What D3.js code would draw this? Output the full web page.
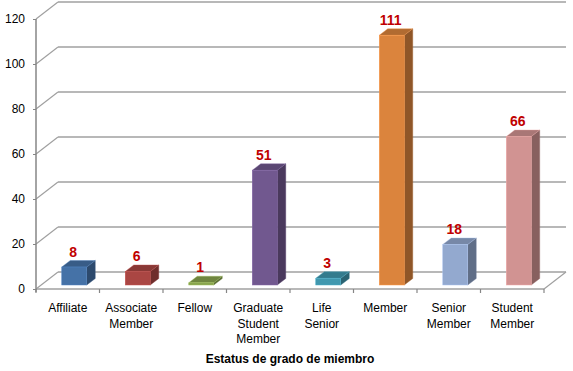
<!DOCTYPE html>
<html>
<head>
<meta charset="utf-8">
<script src="https://cdn.jsdelivr.net/npm/d3@7"></script>
<style>
  body { margin: 0; background: #fff; }
  svg text { font-family: "Liberation Sans", Arial, sans-serif; }
</style>
</head>
<body>
<div id="chart"></div>
<script>
// chart data
let categories = ["Affiliate", "Associate Member", "Fellow", "Graduate Student Member",
                  "Life Senior", "Member", "Senior Member", "Student Member"];
let labelLines = [["Affiliate"], ["Associate", "Member"], ["Fellow"], ["Graduate", "Student", "Member"],
                  ["Life", "Senior"], ["Member"], ["Senior", "Member"], ["Student", "Member"]];
let values = [8, 6, 1, 51, 3, 111, 18, 66];
let colors = ["#4572a7", "#aa4643", "#89a54e", "#71588f", "#4198af", "#db843d", "#93a9cf", "#d19392"];
let yTicks = [0, 20, 40, 60, 80, 100, 120];
let axisTitle = "Estatus de grado de miembro";

// layout
let WIDTH = 573;
let HEIGHT = 371;
let X0 = 36, X1 = 544;      // front plane left / right
let Y_BOTTOM = 289, Y_TOP = 19;
let DEPTH_X = 22, DEPTH_Y = -17; // 3d depth of the plot box
let BAR_W = 25;
let BAR_DX = 6.5, BAR_DY = -4;   // bar front face sits a bit into the box
let BAR_DEPTH_X = 8.5, BAR_DEPTH_Y = -6.5;
let GRID = "#a0a0a0";

const svg = d3.select("#chart")
    .append("svg")
    .attr("width", WIDTH)
    .attr("height", HEIGHT);

const xScale = d3.scaleBand()
    .domain(categories)
    .range([X0, X1])
    .padding(0);

const yScale = d3.scaleLinear()
    .domain([0, 120])
    .range([Y_BOTTOM, Y_TOP]);

// back wall gridlines + left wall diagonals
const grid = svg.append("g");
yTicks.forEach(t => {
    let y = yScale(t);
    grid.append("line")
        .attr("x1", X0 + DEPTH_X).attr("x2", X1 + DEPTH_X)
        .attr("y1", y + DEPTH_Y).attr("y2", y + DEPTH_Y)
        .attr("stroke", GRID).attr("stroke-width", 1.5);
    grid.append("line")
        .attr("x1", X0).attr("x2", X0 + DEPTH_X)
        .attr("y1", y).attr("y2", y + DEPTH_Y)
        .attr("stroke", GRID).attr("stroke-width", 1.2);
});

// floor front edge and right diagonal
grid.append("line")
    .attr("x1", X0).attr("x2", X1)
    .attr("y1", Y_BOTTOM).attr("y2", Y_BOTTOM)
    .attr("stroke", GRID).attr("stroke-width", 1.5);
grid.append("line")
    .attr("x1", X1).attr("x2", X1 + DEPTH_X)
    .attr("y1", Y_BOTTOM).attr("y2", Y_BOTTOM + DEPTH_Y)
    .attr("stroke", GRID).attr("stroke-width", 1.2);

// bars
const bars = svg.append("g");
categories.forEach((c, i) => {
    let col = d3.color(colors[i]);
    let left = xScale(c) + xScale.bandwidth() / 2 + BAR_DX - BAR_W / 2;
    let right = left + BAR_W;
    let bottom = Y_BOTTOM + BAR_DY;
    let top = bottom - (Y_BOTTOM - yScale(values[i]));
    let dx = BAR_DEPTH_X, dy = BAR_DEPTH_Y;

    // side face
    bars.append("path")
        .attr("d", `M${right},${bottom} L${right + dx},${bottom + dy} L${right + dx},${top + dy} L${right},${top} Z`)
        .attr("fill", col.darker(1.2))
        .attr("stroke", col.darker(0.8)).attr("stroke-width", 0.4);
    // top face
    bars.append("path")
        .attr("d", `M${left},${top} L${left + dx},${top + dy} L${right + dx},${top + dy} L${right},${top} Z`)
        .attr("fill", col.darker(0.6))
        .attr("stroke", col.brighter(0.3)).attr("stroke-width", 0.4);
    // front face
    bars.append("rect")
        .attr("x", left).attr("y", top)
        .attr("width", BAR_W).attr("height", bottom - top)
        .attr("fill", col)
        .attr("stroke", col.brighter(0.4)).attr("stroke-width", 0.5);

    // value label
    svg.append("text")
        .attr("x", left + BAR_W / 2 - 1)
        .attr("y", top + dy - 4)
        .attr("text-anchor", "middle")
        .attr("font-size", 14)
        .attr("font-weight", "bold")
        .attr("fill", "#c00000")
        .text(values[i]);
});

// y axis
const yAxis = d3.axisLeft(yScale)
    .tickValues(yTicks)
    .tickSize(3)
    .tickSizeOuter(0)
    .tickPadding(8);

const yG = svg.append("g")
    .attr("transform", `translate(${X0},0)`)
    .call(yAxis);
yG.select(".domain").attr("stroke", "#868686").attr("stroke-width", 1.5)
    .attr("d", `M0,${Y_TOP}V${Y_BOTTOM + 3}`);
yG.selectAll(".tick line").attr("stroke", "#868686");
yG.selectAll(".tick text")
    .attr("font-size", 12)
    .attr("font-family", "Liberation Sans, Arial, sans-serif")
    .attr("fill", "#000");

// x axis boundary ticks
const xG = svg.append("g");
d3.range(categories.length + 1).forEach(i => {
    let x = X0 + i * xScale.bandwidth();
    xG.append("line")
        .attr("x1", x).attr("x2", x)
        .attr("y1", Y_BOTTOM).attr("y2", Y_BOTTOM + 4)
        .attr("stroke", "#868686").attr("stroke-width", 1.2);
});

// category labels
categories.forEach((c, i) => {
    let t = xG.append("text")
        .attr("x", xScale(c) + xScale.bandwidth() / 2)
        .attr("y", 312)
        .attr("text-anchor", "middle")
        .attr("font-size", 12)
        .attr("fill", "#000");
    labelLines[i].forEach((line, j) => {
        t.append("tspan")
            .attr("x", xScale(c) + xScale.bandwidth() / 2)
            .attr("dy", j === 0 ? 0 : 15.5)
            .text(line);
    });
});

// axis title
svg.append("text")
    .attr("x", (X0 + X1) / 2)
    .attr("y", 363)
    .attr("text-anchor", "middle")
    .attr("font-size", 12)
    .attr("font-weight", "bold")
    .attr("fill", "#000")
    .text(axisTitle);
</script>
</body>
</html>
